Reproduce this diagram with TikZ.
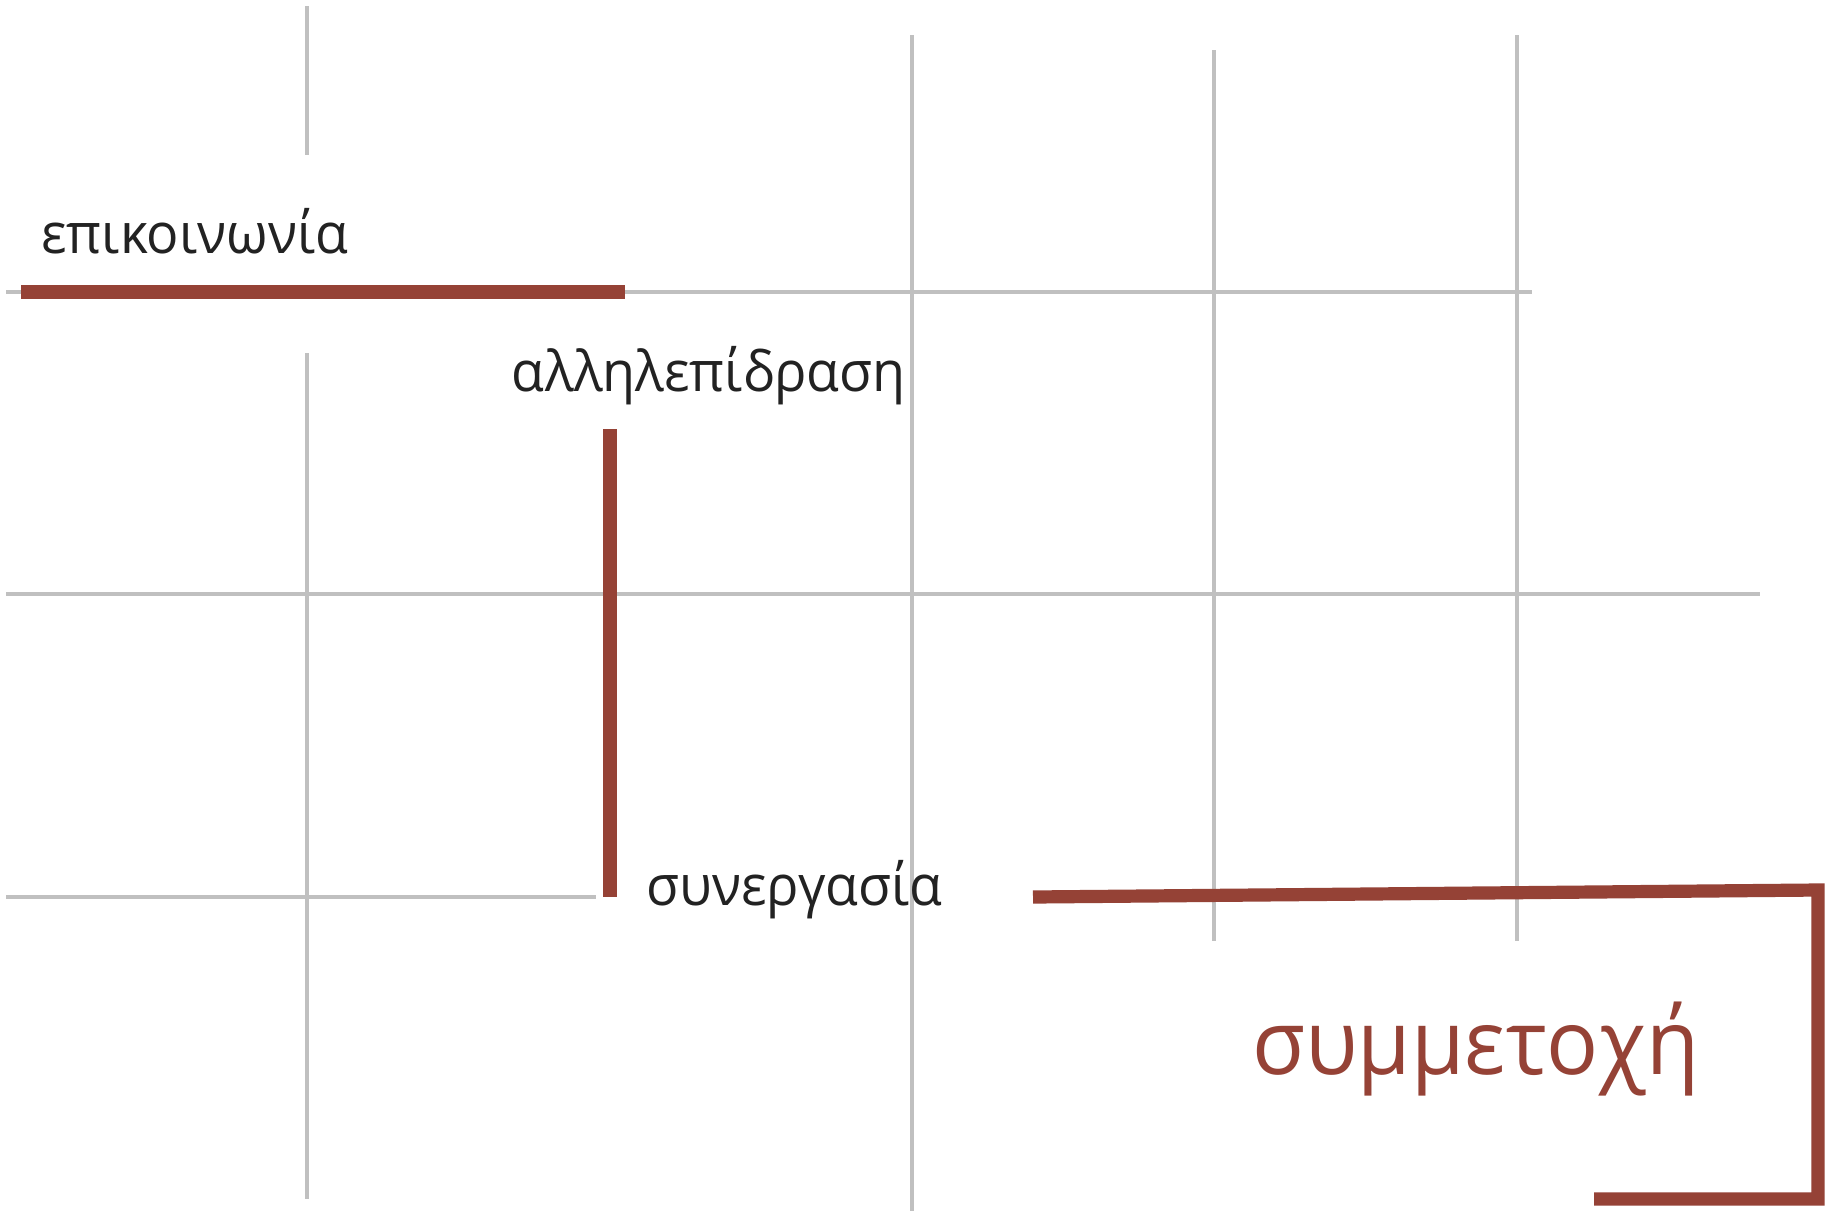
\documentclass[tikz,border=0pt]{standalone}
\usepackage{fontspec}
\setmainfont{Open Sans}
\newfontfamily\hand[FakeStretch=0.96]{Open Sans}
\definecolor{gridgray}{RGB}{192,192,192}
\definecolor{brick}{RGB}{149,66,54}
\definecolor{ink}{RGB}{34,34,34}
\tikzset{
  gridline/.style={draw=gridgray,line width=2.4pt},
  redbar/.style={draw=brick,line width=6.6pt},
  lbl/.style={anchor=base west,inner sep=0pt,text=ink,font=\hand\fontsize{28}{30}\selectfont},
  biglbl/.style={anchor=base west,inner sep=0pt,text=brick,font=\hand\fontsize{45}{50}\selectfont}
}
\begin{document}
\begin{tikzpicture}[x=0.5pt,y=-0.5pt]
\useasboundingbox[fill=white] (0,0) rectangle (1831,1212);
% grid lines
\coordinate (h1a) at (6,292);   \coordinate (h1b) at (1532,292);
\coordinate (h2a) at (6,594);   \coordinate (h2b) at (1760,594);
\coordinate (h3a) at (6,897);   \coordinate (h3b) at (596,897);
\coordinate (v1a) at (307,6);   \coordinate (v1b) at (307,155);
\coordinate (v1c) at (307,353); \coordinate (v1d) at (307,1199);
\coordinate (v2a) at (912,35);  \coordinate (v2b) at (912,1211);
\coordinate (v3a) at (1214,50); \coordinate (v3b) at (1214,941);
\coordinate (v4a) at (1517,35); \coordinate (v4b) at (1517,941);
\draw[gridline] (h1a) -- (h1b);
\draw[gridline] (h2a) -- (h2b);
\draw[gridline] (h3a) -- (h3b);
\draw[gridline] (v1a) -- (v1b);
\draw[gridline] (v1c) -- (v1d);
\draw[gridline] (v2a) -- (v2b);
\draw[gridline] (v3a) -- (v3b);
\draw[gridline] (v4a) -- (v4b);
% red bars
\coordinate (r1a) at (21,292);  \coordinate (r1b) at (625,292);
\coordinate (r2a) at (610,429); \coordinate (r2b) at (610,897);
\coordinate (r3a) at (1033,897); \coordinate (r3b) at (1818,890);
\coordinate (r3c) at (1818,1199); \coordinate (r3d) at (1594,1199);
\draw[redbar] (r1a) -- (r1b);
\draw[redbar] (r2a) -- (r2b);
\draw[redbar,miter limit=10] (r3a) -- (r3b) -- (r3c) -- (r3d);
% labels
\node[lbl] (epi) at (41,253) {επικοινωνία};
\node[lbl] (all) at (511,391) {αλληλεπίδραση};
\node[lbl] (syn) at (646,905) {συνεργασία};
\node[biglbl] (sym) at (1252,1074) {συμμετοχή};
\end{tikzpicture}
\end{document}
